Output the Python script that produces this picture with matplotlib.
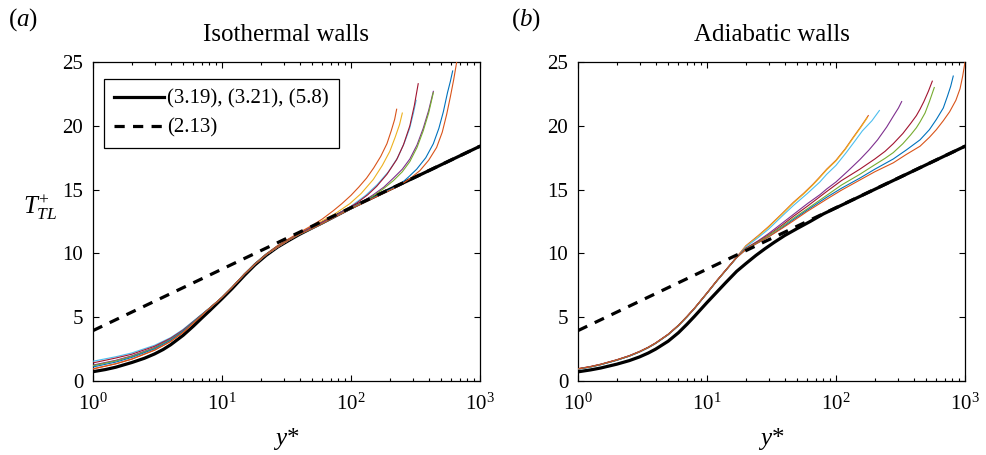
import matplotlib
matplotlib.use("Agg")
import matplotlib.pyplot as plt
from matplotlib.ticker import LogLocator, NullFormatter

plt.rcParams['font.family'] = ['Liberation Serif', 'DejaVu Serif']
plt.rcParams['mathtext.fontset'] = 'custom'
plt.rcParams['mathtext.rm'] = 'Liberation Serif'
plt.rcParams['mathtext.it'] = 'Liberation Serif:italic'
plt.rcParams['mathtext.bf'] = 'Liberation Serif:bold'

# ---------------- data ----------------
titles = ["Isothermal walls", "Adiabatic walls"]
legend_labels = ["(3.19), (3.21), (5.8)", "(2.13)"]
x_ticks = [1, 10, 100, 1000]
y_ticks = [0, 5, 10, 15, 20, 25]

# log law (2.13)
loglaw_x = [1, 1000]
loglaw_y = [3.95, 18.4]

# model (3.19),(3.21),(5.8)
a_black_x = [1, 1.25, 1.5, 2, 2.5, 3, 3.5, 4, 5, 6, 7, 8, 10, 12, 15, 18, 22, 27, 33, 40, 50, 60, 70, 100, 1000]
a_black_y = [0.73, 0.9, 1.08, 1.45, 1.78, 2.12, 2.47, 2.84, 3.58, 4.3, 4.95, 5.5, 6.45, 7.25, 8.3, 9.1, 9.85, 10.5, 11.02, 11.5, 12.0, 12.4, 12.75, 13.57, 18.4]
b_black_x = [1, 1.25, 1.5, 2, 2.5, 3, 3.5, 4, 5, 6, 7, 8, 10, 12, 14, 17, 20, 24, 28, 33, 40, 50, 63, 80, 100, 1000]
b_black_y = [0.72, 0.87, 1.02, 1.32, 1.6, 1.89, 2.19, 2.5, 3.12, 3.78, 4.45, 5.07, 6.15, 7.0, 7.72, 8.6, 9.2, 9.85, 10.35, 10.85, 11.4, 11.95, 12.5, 13.1, 13.57, 18.4]

# MATLAB default palette
c_blue = (0.000, 0.447, 0.741)
c_orange = (0.850, 0.325, 0.098)
c_yellow = (0.929, 0.694, 0.125)
c_purple = (0.494, 0.184, 0.556)
c_green = (0.466, 0.674, 0.188)
c_lblue = (0.301, 0.745, 0.933)
c_red = (0.635, 0.078, 0.184)

# DNS cases, isothermal walls
a_orange1_x = [1, 1.5, 2, 3, 4, 5, 7, 8, 10, 12, 15, 18, 22, 27, 33, 40, 50, 60, 73, 85, 100, 115, 132, 150, 170, 190, 205, 218, 226]
a_orange1_y = [0.95, 1.35, 1.72, 2.42, 3.1, 3.8, 5.15, 5.7, 6.55, 7.35, 8.4, 9.15, 9.95, 10.6, 11.15, 11.65, 12.2, 12.7, 13.35, 13.9, 14.55, 15.2, 15.9, 16.7, 17.6, 18.6, 19.6, 20.5, 21.3]
a_yellow_x = [1, 1.5, 2, 3, 4, 5, 7, 8, 10, 12, 15, 18, 22, 27, 33, 40, 50, 60, 75, 98, 120, 149, 175, 200, 220, 238, 250]
a_yellow_y = [1.2, 1.6, 1.95, 2.6, 3.3, 3.95, 5.2, 5.7, 6.55, 7.35, 8.4, 9.15, 9.9, 10.5, 11.05, 11.55, 12.05, 12.55, 13.1, 13.9, 14.7, 15.8, 16.9, 18.0, 19.1, 20.1, 21.0]
a_lblue_x = [1, 1.5, 2, 3, 4, 5, 7, 8, 10, 12, 15, 18, 22, 27, 33, 40, 50, 60, 80, 100, 130, 160, 195, 230, 260, 285, 305, 320]
a_lblue_y = [1.55, 1.9, 2.2, 2.8, 3.4, 4.05, 5.25, 5.72, 6.55, 7.35, 8.4, 9.15, 9.9, 10.5, 11.05, 11.55, 12.05, 12.45, 13.1, 13.7, 14.55, 15.4, 16.4, 17.5, 18.7, 19.8, 21.0, 22.0]
a_red_x = [1, 1.5, 2, 3, 4, 5, 7, 8, 10, 12, 15, 18, 22, 27, 33, 40, 50, 60, 80, 111, 135, 158, 190, 226, 255, 286, 310, 332]
a_red_y = [1.42, 1.8, 2.1, 2.72, 3.35, 4.0, 5.22, 5.7, 6.55, 7.35, 8.4, 9.15, 9.9, 10.5, 11.05, 11.55, 12.05, 12.45, 13.1, 13.95, 14.6, 15.25, 16.2, 17.35, 18.5, 20.0, 21.6, 23.3]
a_purple_x = [1, 1.5, 2, 3, 4, 5, 7, 8, 10, 12, 15, 18, 22, 27, 33, 40, 50, 60, 100, 125, 149, 180, 213, 250, 286, 325, 363, 400, 435]
a_purple_y = [1.25, 1.62, 1.97, 2.62, 3.3, 3.95, 5.2, 5.7, 6.55, 7.35, 8.4, 9.15, 9.9, 10.5, 11.05, 11.55, 12.0, 12.4, 13.6, 14.1, 14.6, 15.2, 15.9, 16.6, 17.4, 18.5, 19.8, 21.2, 22.7]
a_green_x = [1, 1.5, 2, 3, 4, 5, 7, 8, 10, 12, 15, 18, 22, 27, 33, 40, 50, 60, 100, 125, 149, 180, 213, 250, 286, 325, 363, 400, 435]
a_green_y = [1.2, 1.57, 1.92, 2.58, 3.25, 3.92, 5.2, 5.7, 6.55, 7.35, 8.4, 9.15, 9.9, 10.5, 11.05, 11.5, 11.95, 12.35, 13.55, 14.05, 14.5, 15.1, 15.7, 16.4, 17.2, 18.3, 19.6, 21.0, 22.6]
a_blue_x = [1, 1.5, 2, 3, 4, 5, 7, 8, 10, 12, 15, 18, 22, 27, 33, 40, 50, 60, 100, 150, 200, 240, 280, 323, 380, 435, 480, 520, 560, 590, 614]
a_blue_y = [1.1, 1.48, 1.85, 2.52, 3.2, 3.9, 5.2, 5.7, 6.55, 7.35, 8.4, 9.15, 9.9, 10.5, 11.05, 11.5, 11.95, 12.35, 13.5, 14.4, 15.0, 15.4, 16.0, 16.6, 17.5, 18.6, 19.8, 21.1, 22.6, 23.5, 24.3]
a_orange2_x = [1, 1.5, 2, 3, 4, 5, 7, 8, 10, 12, 15, 18, 22, 27, 33, 40, 50, 60, 100, 150, 200, 240, 290, 343, 400, 461, 510, 552, 590, 625, 660]
a_orange2_y = [0.95, 1.35, 1.72, 2.42, 3.1, 3.82, 5.18, 5.7, 6.55, 7.35, 8.4, 9.15, 9.9, 10.5, 11.05, 11.5, 11.95, 12.35, 13.5, 14.35, 14.95, 15.35, 15.9, 16.5, 17.3, 18.3, 19.5, 20.9, 22.3, 23.6, 25.0]

# DNS cases, adiabatic walls
b_orange1_x = [1, 1.25, 1.5, 2, 2.5, 3, 3.5, 4, 5, 6, 7, 8, 10, 12, 14, 17, 20, 25, 30, 38, 46.7, 56, 66, 75, 84.7, 100, 118, 136, 155, 170, 178]
b_orange1_y = [0.96, 1.13, 1.31, 1.66, 1.98, 2.31, 2.64, 2.98, 3.66, 4.36, 5.06, 5.71, 6.91, 7.91, 8.71, 9.72, 10.6, 11.4, 12.1, 13.1, 14.0, 14.7, 15.4, 16.0, 16.6, 17.3, 18.2, 19.1, 19.9, 20.5, 20.8]
b_yellow_x = [1, 1.25, 1.5, 2, 2.5, 3, 3.5, 4, 5, 6, 7, 8, 10, 12, 14, 17, 20, 25, 30, 38, 46.7, 56, 66, 75, 84.7, 100, 118, 136, 155, 170, 175]
b_yellow_y = [0.94, 1.11, 1.29, 1.64, 1.96, 2.29, 2.62, 2.96, 3.64, 4.34, 5.04, 5.69, 6.89, 7.89, 8.69, 9.7, 10.55, 11.35, 12.05, 13.05, 13.95, 14.65, 15.35, 15.95, 16.55, 17.25, 18.15, 19.05, 19.85, 20.45, 20.65]
b_lblue_x = [1, 1.25, 1.5, 2, 2.5, 3, 3.5, 4, 5, 6, 7, 8, 10, 12, 14, 17, 20, 25, 30, 38, 46.7, 60, 75, 84.7, 100, 120, 140, 160, 190, 217]
b_lblue_y = [0.92, 1.09, 1.27, 1.62, 1.94, 2.27, 2.6, 2.94, 3.62, 4.32, 5.02, 5.67, 6.87, 7.87, 8.67, 9.68, 10.5, 11.25, 11.9, 12.9, 13.75, 14.7, 15.6, 16.2, 16.9, 17.9, 18.8, 19.6, 20.4, 21.2]
b_purple_x = [1, 1.25, 1.5, 2, 2.5, 3, 3.5, 4, 5, 6, 7, 8, 10, 12, 14, 17, 20, 25, 30, 38, 46.7, 60, 75, 84.7, 100, 125, 153, 180, 210, 247, 280, 305, 323]
b_purple_y = [0.95, 1.12, 1.3, 1.65, 1.97, 2.3, 2.63, 2.97, 3.65, 4.35, 5.05, 5.7, 6.9, 7.9, 8.7, 9.7, 10.4, 11.0, 11.55, 12.35, 13.05, 13.9, 14.6, 15.05, 15.6, 16.5, 17.35, 18.1, 18.9, 19.9, 20.8, 21.4, 21.9]
b_red_x = [1, 1.25, 1.5, 2, 2.5, 3, 3.5, 4, 5, 6, 7, 8, 10, 12, 14, 17, 20, 25, 30, 38, 46.7, 60, 84.7, 110, 153, 200, 240, 278, 330, 380, 420, 448, 480, 520, 558]
b_red_y = [0.97, 1.14, 1.32, 1.67, 1.99, 2.32, 2.65, 2.99, 3.67, 4.37, 5.07, 5.72, 6.9, 7.9, 8.7, 9.7, 10.4, 10.95, 11.45, 12.2, 12.9, 13.7, 14.85, 15.7, 16.6, 17.4, 18.0, 18.6, 19.4, 20.2, 20.8, 21.3, 21.9, 22.7, 23.5]
b_green_x = [1, 1.25, 1.5, 2, 2.5, 3, 3.5, 4, 5, 6, 7, 8, 10, 12, 14, 17, 20, 25, 30, 38, 46.7, 60, 84.7, 110, 153, 200, 240, 278, 330, 380, 420, 448, 490, 530, 578]
b_green_y = [0.94, 1.11, 1.29, 1.64, 1.96, 2.29, 2.62, 2.96, 3.64, 4.34, 5.04, 5.69, 6.88, 7.88, 8.68, 9.68, 10.35, 10.9, 11.4, 12.1, 12.75, 13.5, 14.55, 15.35, 16.2, 16.95, 17.45, 17.9, 18.6, 19.3, 19.85, 20.3, 21.0, 21.9, 23.0]
b_blue_x = [1, 1.25, 1.5, 2, 2.5, 3, 3.5, 4, 5, 6, 7, 8, 10, 12, 14, 17, 20, 25, 30, 38, 46.7, 60, 84.7, 110, 153, 200, 278, 350, 448, 530, 600, 679, 730, 775, 811]
b_blue_y = [0.93, 1.1, 1.28, 1.63, 1.95, 2.28, 2.61, 2.95, 3.63, 4.33, 5.03, 5.68, 6.87, 7.87, 8.67, 9.67, 10.3, 10.85, 11.3, 12.0, 12.65, 13.4, 14.4, 15.1, 15.9, 16.6, 17.4, 18.1, 18.9, 19.7, 20.5, 21.4, 22.3, 23.1, 23.9]
b_orange2_x = [1, 1.25, 1.5, 2, 2.5, 3, 3.5, 4, 5, 6, 7, 8, 10, 12, 14, 17, 20, 25, 30, 38, 46.7, 60, 84.7, 110, 153, 200, 278, 350, 448, 530, 600, 679, 760, 850, 915, 960, 1000]
b_orange2_y = [0.94, 1.11, 1.29, 1.64, 1.96, 2.29, 2.62, 2.96, 3.64, 4.34, 5.04, 5.69, 6.88, 7.88, 8.68, 9.68, 10.3, 10.85, 11.3, 11.95, 12.55, 13.3, 14.25, 14.95, 15.75, 16.4, 17.1, 17.75, 18.4, 19.1, 19.7, 20.4, 21.1, 22.0, 22.9, 23.9, 25.0]

a_dns = [(a_orange1_x, a_orange1_y, c_orange), (a_yellow_x, a_yellow_y, c_yellow),
         (a_lblue_x, a_lblue_y, c_lblue), (a_red_x, a_red_y, c_red),
         (a_purple_x, a_purple_y, c_purple), (a_green_x, a_green_y, c_green),
         (a_blue_x, a_blue_y, c_blue), (a_orange2_x, a_orange2_y, c_orange)]
b_dns = [(b_orange1_x, b_orange1_y, c_orange), (b_yellow_x, b_yellow_y, c_yellow),
         (b_lblue_x, b_lblue_y, c_lblue), (b_purple_x, b_purple_y, c_purple),
         (b_red_x, b_red_y, c_red), (b_green_x, b_green_y, c_green),
         (b_blue_x, b_blue_y, c_blue), (b_orange2_x, b_orange2_y, c_orange)]

# ---------------- figure ----------------
fig = plt.figure(figsize=(9.87, 4.55), dpi=100)
axa = fig.add_axes([0.0942, 0.1626, 0.3921, 0.7011])
axb = fig.add_axes([0.5856, 0.1626, 0.3921, 0.7011])

panels = [(axa, a_black_x, a_black_y, a_dns), (axb, b_black_x, b_black_y, b_dns)]
for i, (ax, bx, by, dns) in enumerate(panels):
    hs, = ax.plot(bx, by, color='black', lw=2.3, zorder=3, solid_joinstyle='round')
    for x, y, c in dns:
        ax.plot(x, y, color=c, lw=0.8, zorder=4, solid_joinstyle='round')
    hd, = ax.plot(loglaw_x, loglaw_y, color='black', lw=2.3, ls=(0, (3.2, 2.6)), zorder=5)
    ax.set_xscale('log')
    ax.set_xlim(1, 1000)
    ax.set_ylim(0, 25)
    ax.set_xticks(x_ticks)
    ax.set_yticks(y_ticks)
    ax.xaxis.set_minor_locator(LogLocator(base=10, subs=range(2, 10), numticks=20))
    ax.xaxis.set_minor_formatter(NullFormatter())
    ax.tick_params(which='both', direction='in', top=True, right=True, labelsize=15, width=0.8, colors='black')
    ax.tick_params(which='major', length=4.5)
    ax.tick_params(which='minor', length=2.5)
    ax.tick_params(axis='x', which='major', pad=9)
    ax.tick_params(axis='y', which='major', pad=7)
    for s in ax.spines.values():
        s.set_linewidth(0.9)
    ax.set_title(titles[i], fontsize=18, pad=15)
    ax.set_xlabel(r'$y$*', fontsize=18, labelpad=8)
    if i == 0:
        ax.set_ylabel(r'$T^{+}_{TL}$', fontsize=18, rotation=0)
        ax.yaxis.set_label_coords(-0.135, 0.50)
        leg = ax.legend([hs, hd], legend_labels, loc='upper left', bbox_to_anchor=(0.028, 0.947),
                        fontsize=15, frameon=True, fancybox=False, framealpha=1,
                        edgecolor='black', handlelength=2.4, handletextpad=0.15,
                        borderpad=0.5, labelspacing=0.45, borderaxespad=0)
        leg.get_frame().set_linewidth(0.9)

fig.text(0.008, 0.958, r'($a$)', fontsize=18, va='center', ha='left')
fig.text(0.518, 0.958, r'($b$)', fontsize=18, va='center', ha='left')

fig.savefig('out.png', dpi=100)
